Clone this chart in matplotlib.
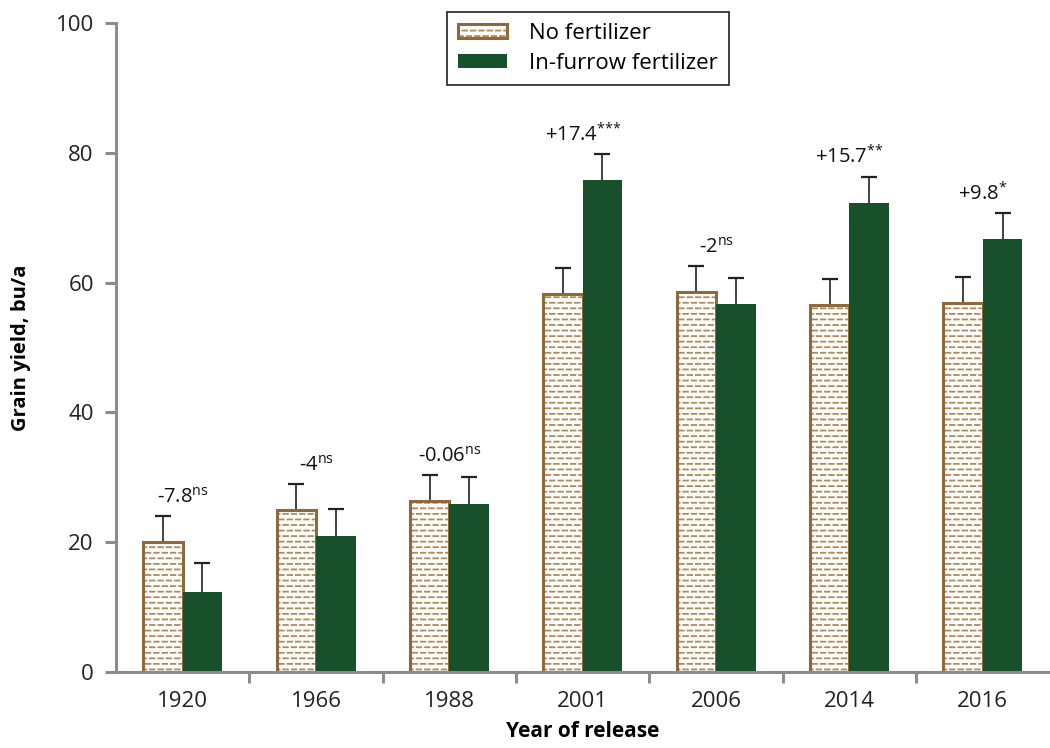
import numpy as np
import matplotlib
matplotlib.use("Agg")
import matplotlib.pyplot as plt
from matplotlib import hatch as mhatch
from matplotlib.path import Path
from matplotlib.patches import Patch
from matplotlib.legend_handler import HandlerTuple

# grain yield by year of release, with and without in-furrow fertilizer
years = ["1920", "1966", "1988", "2001", "2006", "2014", "2016"]
no_fert = [20.0, 24.9, 26.3, 58.2, 58.5, 56.5, 56.8]
no_fert_err = [4.1, 4.1, 4.1, 4.1, 4.1, 4.1, 4.1]
in_furrow = [12.3, 21.0, 25.9, 75.8, 56.7, 72.2, 66.7]
in_furrow_err = [4.5, 4.1, 4.1, 4.0, 4.0, 4.1, 4.0]
diff = ["-7.8", "-4", "-0.06", "+17.4", "-2", "+15.7", "+9.8"]
signif = ["ns", "ns", "ns", "***", "ns", "**", "*"]


# short staggered dashes instead of the plain '-' hatch lines
class DashHatch(mhatch.HatchPatternBase):
    def __init__(self, hatch, density):
        self.num_rows = int(hatch.count('-') * density)
        self.num_dashes = int(round(self.num_rows * 0.66))
        self.num_vertices = self.num_rows * (self.num_dashes + 1) * 2

    def set_vertices_and_codes(self, vertices, codes):
        step_y = 1.0 / self.num_rows
        step_x = 1.0 / self.num_dashes
        dash = step_x * 0.55
        k = 0
        for r in range(self.num_rows):
            y = (r + 0.5) * step_y
            shift = (r % 2) * step_x / 2
            for d in range(self.num_dashes + 1):
                x0 = d * step_x + shift - step_x / 2
                vertices[k] = (x0, y)
                vertices[k + 1] = (x0 + dash, y)
                codes[k] = Path.MOVETO
                codes[k + 1] = Path.LINETO
                k += 2


mhatch._hatch_types[0] = DashHatch

plt.rcParams['font.family'] = ['Open Sans', 'DejaVu Sans']
plt.rcParams['mathtext.fontset'] = 'custom'
plt.rcParams['mathtext.rm'] = 'Open Sans'
plt.rcParams['hatch.linewidth'] = 1.3
plt.rcParams['hatch.color'] = '#b08a5a'

brown = '#8c6a3c'
green = '#17502a'
grey = '#8c8c8c'

fig = plt.figure(figsize=(10.5, 7.48), dpi=100)
ax = fig.add_axes([0.1105, 0.1016, 0.889, 0.8677])

x = np.arange(len(years))
w = 0.296
xa = x - w / 2
xb = x + w / 2

ax.bar(xa, no_fert, w, color='white', hatch='---', linewidth=0, zorder=2)
ax.bar(xa, no_fert, w, fill=False, edgecolor=brown, linewidth=2.2, zorder=2)
ax.bar(xb, in_furrow, w, color=green, linewidth=0, zorder=2)

# upper error bars only
top_a = np.array(no_fert) + np.array(no_fert_err)
top_b = np.array(in_furrow) + np.array(in_furrow_err)
ax.vlines(xa, no_fert, top_a, color='#222222', linewidth=1.2, zorder=1)
ax.vlines(xb, in_furrow, top_b, color='#222222', linewidth=1.2, zorder=1)
ax.plot(xa, top_a, ls='none', marker='_', ms=11, mew=1.6, color='#222222')
ax.plot(xb, top_b, ls='none', marker='_', ms=11, mew=1.6, color='#222222')

# difference labels above each pair
for i in range(len(years)):
    top = max(top_a[i], top_b[i])
    ax.text(x[i], top + 1.2, r'$\text{%s}^{\text{%s}}$' % (diff[i], signif[i]),
            ha='center', va='bottom', fontsize=14.5, color='#111111')

ax.set_xlim(-0.5, len(years) - 0.5)
ax.set_ylim(0, 100)
ax.set_yticks([0, 20, 40, 60, 80, 100])
ax.set_xticks(x)
ax.set_xticklabels(years)
ax.set_xticks(np.arange(0.5, len(years) - 1, 1), minor=True)
ax.tick_params(axis='x', which='major', length=0, pad=14, labelsize=16, labelcolor='#222222')
ax.tick_params(axis='x', which='minor', length=8, width=2.2, color=grey, direction='out')
ax.tick_params(axis='y', length=8, width=2.2, color=grey, pad=8, labelsize=16, labelcolor='#222222')

for s in ['top', 'right']:
    ax.spines[s].set_visible(False)
for s in ['left', 'bottom']:
    ax.spines[s].set_color(grey)
    ax.spines[s].set_linewidth(2.2)

ax.set_ylabel('Grain yield, bu/a', fontsize=14.5, fontweight='bold', labelpad=18)
ax.set_xlabel('Year of release', fontsize=15, fontweight='bold', labelpad=6)

leg_hatch = Patch(facecolor='white', hatch='---', linewidth=0)
leg_edge = Patch(fill=False, edgecolor=brown, linewidth=2.2)
leg_green = Patch(facecolor=green, linewidth=0)
leg = ax.legend([(leg_hatch, leg_edge), leg_green], ['No fertilizer', 'In-furrow fertilizer'],
                handler_map={tuple: HandlerTuple(ndivide=1, pad=0)},
                loc='upper center', bbox_to_anchor=(588 / 1050, 1 - 12 / 748),
                bbox_transform=fig.transFigure, fontsize=16, frameon=True,
                fancybox=False, edgecolor='black', handlelength=2.2, handleheight=0.6,
                handletextpad=1.0, borderpad=0.5, labelspacing=0.4, borderaxespad=0)
leg.get_frame().set_linewidth(1.3)

fig.savefig('out.png', dpi=100)
